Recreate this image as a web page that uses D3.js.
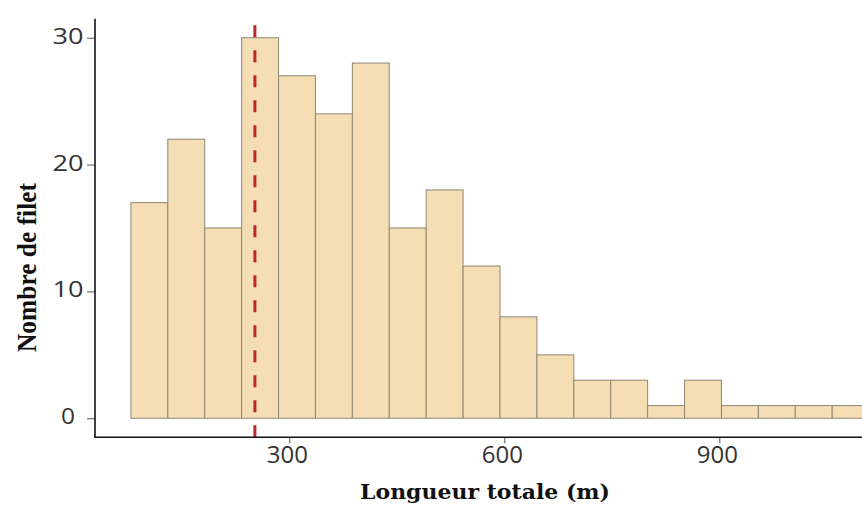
<!DOCTYPE html>
<html>
<head>
<meta charset="utf-8">
<script src="https://cdn.jsdelivr.net/npm/d3@7"></script>
<style>
  html, body { margin: 0; padding: 0; background: #fff; }
  svg { display: block; }
</style>
</head>
<body>
<script>
// ---- data ----
const binEdges = [79, 130.5, 182, 233.5, 285, 336.5, 388, 439.5, 491, 542.5, 594,
                  645.5, 697, 748.5, 800, 851.5, 903, 954.5, 1006, 1057.5, 1109];
const counts = [17, 22, 15, 30, 27, 24, 28, 15, 18, 12, 8, 5, 3, 3, 1, 3, 1, 1, 1, 1];
const xTicks = [300, 600, 900];
const yTicks = [0, 10, 20, 30];
const refLine = 252;
const xTitle = "Longueur totale (m)";
const yTitle = "Nombre de filet";

const W = 862, H = 505;
const svg = d3.select("body").append("svg").attr("width", W).attr("height", H);
svg.append("rect").attr("width", W).attr("height", H).attr("fill", "#fff");

const x = d3.scaleLinear().domain([27.5, 1160.5]).range([94.0, 906.0]);
const y = d3.scaleLinear().domain([-1.5, 31.5]).range([437.3, 18.7]);

const bins = counts.map((c, i) => ({ x0: binEdges[i], x1: binEdges[i + 1], n: c }));

// bars
svg.append("g").selectAll("rect").data(bins).join("rect")
  .attr("x", d => x(d.x0))
  .attr("y", d => y(d.n))
  .attr("width", d => x(d.x1) - x(d.x0))
  .attr("height", d => y(0) - y(d.n))
  .attr("fill", "#f5deb3")
  .attr("stroke", "#8e8676")
  .attr("stroke-width", 1);

// reference dashed line (drawn bottom to top)
svg.append("line")
  .attr("x1", x(refLine)).attr("x2", x(refLine))
  .attr("y1", y(-1.5)).attr("y2", y(31.5))
  .attr("stroke", "#c0262b")
  .attr("stroke-width", 3)
  .attr("stroke-dasharray", "12,13");

// y axis
const yAxis = d3.axisLeft(y).tickValues(yTicks).tickSize(8).tickPadding(0).tickFormat(d3.format("d"));
const gy = svg.append("g").attr("transform", "translate(95,0)").call(yAxis);
gy.select(".domain").remove();
gy.selectAll(".tick line").attr("stroke", "#555").attr("stroke-width", 1);
gy.selectAll(".tick text")
  .attr("x", -27)
  .attr("dy", "0")
  .attr("y", 5.5)
  .attr("text-anchor", "middle")
  .attr("font-family", "'Open Sans', sans-serif")
  .attr("font-size", 21)
  .attr("fill", "#333")
  .attr("textLength", d => String(d).length > 1 ? 31 : 14)
  .attr("lengthAdjust", "spacingAndGlyphs");

// x axis
const xAxis = d3.axisBottom(x).tickValues(xTicks).tickSize(6).tickPadding(0).tickFormat(d3.format("d"));
const gx = svg.append("g").attr("transform", "translate(0,437.3)").call(xAxis);
gx.select(".domain").remove();
gx.selectAll(".tick line").attr("stroke", "#555").attr("stroke-width", 1);
gx.selectAll(".tick text")
  .attr("y", 26)
  .attr("dy", "0")
  .attr("x", -2.5)
  .attr("font-family", "'Open Sans', sans-serif")
  .attr("font-size", 24)
  .attr("fill", "#333");

// axis lines
svg.append("line").attr("x1", 95).attr("x2", 95).attr("y1", y(31.5)).attr("y2", y(-1.5))
  .attr("stroke", "#111").attr("stroke-width", 1.6);
svg.append("line").attr("x1", 94.2).attr("x2", W).attr("y1", y(-1.5)).attr("y2", y(-1.5))
  .attr("stroke", "#111").attr("stroke-width", 1.6);

// titles
svg.append("text")
  .attr("x", 485).attr("y", 499)
  .attr("text-anchor", "middle")
  .attr("font-family", "'DejaVu Serif', serif")
  .attr("font-weight", "bold")
  .attr("font-size", 20.5)
  .attr("fill", "#111")
  .attr("textLength", 250)
  .attr("lengthAdjust", "spacingAndGlyphs")
  .text(xTitle);

svg.append("text")
  .attr("transform", "translate(35.5,267.5) rotate(-90)")
  .attr("text-anchor", "middle")
  .attr("font-family", "'Liberation Serif', serif")
  .attr("font-weight", "bold")
  .attr("font-size", 27)
  .attr("fill", "#111")
  .attr("textLength", 169)
  .attr("lengthAdjust", "spacingAndGlyphs")
  .text(yTitle);
</script>
</body>
</html>
